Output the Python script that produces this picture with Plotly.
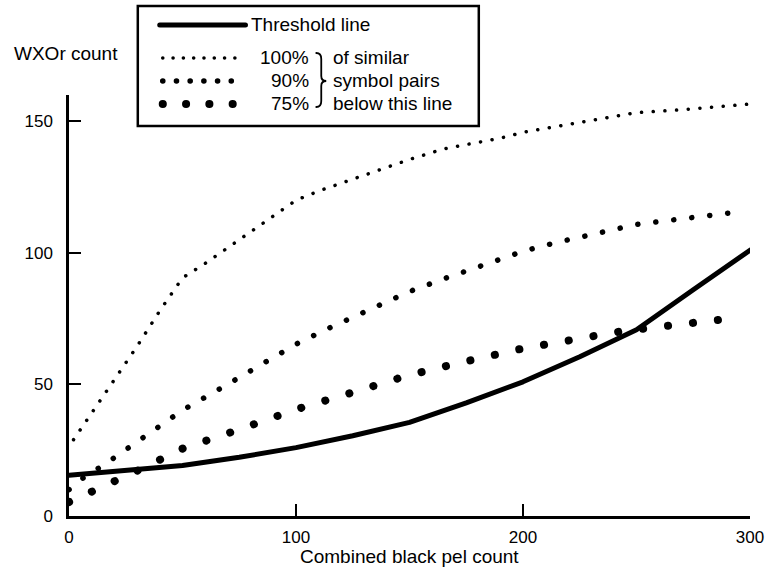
import plotly.graph_objects as go

# ---------------- data ----------------
thr_x = [0, 25, 50, 75, 100, 125, 150, 175, 200, 225, 250, 275, 300]
thr_y = [15.5, 17.3, 19.2, 22.3, 26.0, 30.5, 35.6, 43.0, 51.0, 60.5, 70.8, 86.0, 101.0]

p100_x = [2, 10, 20, 30, 40, 50, 60, 70, 80, 90, 100, 110, 120, 135, 150, 165, 180, 190,
          200, 215, 230, 250, 270, 285, 299]
p100_y = [29, 39, 51.5, 64.5, 78, 90.5, 96, 102, 108, 114, 120, 123.5, 126.5, 131, 135.5,
          139.5, 142, 143.6, 145.8, 148, 150.5, 153.3, 154.4, 155.6, 156.5]

p90_x = [0, 7, 15, 30, 50, 65, 80, 100, 115, 130, 150, 165, 180, 200, 215, 230, 250, 265,
         280, 296]
p90_y = [10, 15, 19.2, 28.3, 40.2, 47.6, 55.4, 65.3, 71.6, 77.4, 85.3, 90.1, 94.8, 100.6,
         104, 107, 110.8, 112.4, 114, 115.7]

p75_x = [0, 11, 21, 32, 50, 72, 100, 122, 150, 172, 200, 222, 244, 262, 283, 295]
p75_y = [5.3, 9.3, 13.6, 18, 25.6, 32, 40.5, 46.2, 53.6, 58.2, 63.7, 67, 70.3, 72.1, 74.1, 75.4]

x_ticks = [0, 100, 200, 300]
y_ticks = [0, 50, 100, 150]

# ---------------- geometry helpers (pixels -> paper) ----------------
W, H = 776, 576
L, R, T, B = 69, 752, 95, 516


def px(x):
    return (x - L) / (R - L)


def py(y):
    return (B - y) / (B - T)


FONT = "Liberation Sans, Arial, Helvetica, sans-serif"
TXT = 19
INK = "black"

fig = go.Figure()

fig.add_trace(go.Scatter(x=p100_x, y=p100_y, mode="lines",
                         line=dict(color=INK, width=3.5, dash="0.1px,11.6px"),
                         showlegend=False, hoverinfo="skip"))
fig.add_trace(go.Scatter(x=p90_x, y=p90_y, mode="lines",
                         line=dict(color=INK, width=5.5, dash="0.1px,18px"),
                         showlegend=False, hoverinfo="skip"))
fig.add_trace(go.Scatter(x=p75_x, y=p75_y, mode="lines",
                         line=dict(color=INK, width=8, dash="0.1px,25px"),
                         showlegend=False, hoverinfo="skip"))
fig.add_trace(go.Scatter(x=thr_x, y=thr_y, mode="lines",
                         line=dict(color=INK, width=5),
                         showlegend=False, hoverinfo="skip"))

shapes = [
    # legend frame
    dict(type="rect", xref="paper", yref="paper", x0=px(138), x1=px(480), y0=py(126), y1=py(6),
         line=dict(color=INK, width=2.5), fillcolor="white", layer="above"),
    # legend samples
    dict(type="line", xref="paper", yref="paper", x0=px(160), x1=px(246), y0=py(25), y1=py(25),
         line=dict(color=INK, width=5)),
    dict(type="line", xref="paper", yref="paper", x0=px(163), x1=px(245), y0=py(58), y1=py(58),
         line=dict(color=INK, width=3.5, dash="0.1px,10.2px")),
    dict(type="line", xref="paper", yref="paper", x0=px(163), x1=px(245), y0=py(81), y1=py(81),
         line=dict(color=INK, width=5.5, dash="0.1px,13.6px")),
    dict(type="line", xref="paper", yref="paper", x0=px(163), x1=px(256), y0=py(104), y1=py(104),
         line=dict(color=INK, width=8, dash="0.1px,23.2px")),
]

# curly brace grouping the three percentage rows
bx0, bx1, btip = 317, 322, 327
by0, bym, by1 = 53, 81, 107
brace = (f"M {px(bx0)},{py(by0)} Q {px(bx1)},{py(by0)} {px(bx1)},{py(by0 + 6)} "
         f"L {px(bx1)},{py(bym - 5)} Q {px(bx1)},{py(bym)} {px(btip)},{py(bym)} "
         f"Q {px(bx1)},{py(bym)} {px(bx1)},{py(bym + 5)} "
         f"L {px(bx1)},{py(by1 - 6)} Q {px(bx1)},{py(by1)} {px(bx0)},{py(by1)}")
shapes.append(dict(type="path", xref="paper", yref="paper", path=brace,
                   line=dict(color=INK, width=1.8)))


def note(text, x, y, xanchor="left", size=TXT):
    return dict(text=text, x=x, y=y, xref="paper", yref="paper", xanchor=xanchor,
                yanchor="middle", showarrow=False, font=dict(family=FONT, size=size, color=INK))


annotations = [
    note("WXOr count", px(12), py(54)),
    note("Threshold line", px(250), py(25)),
    note("100%", px(312), py(58), "right"),
    note("90%", px(312), py(81), "right"),
    note("75%", px(312), py(104), "right"),
    note("of similar", px(332), py(58)),
    note("symbol pairs", px(332), py(81)),
    note("below this line", px(332), py(104)),
    note("Combined black pel count", 0.5, py(556), "center"),
]

axis_common = dict(showline=True, linecolor=INK, linewidth=2.5, ticks="inside", ticklen=12,
                   tickwidth=2, tickcolor=INK, showgrid=False, zeroline=False,
                   tickfont=dict(family=FONT, size=17, color=INK), mirror=False)

fig.update_layout(
    width=W, height=H,
    margin=dict(l=L, r=W - R, t=T, b=H - B, pad=0),
    paper_bgcolor="white", plot_bgcolor="white",
    xaxis=dict(range=[0, 300], tickvals=x_ticks, ticktext=[str(v) for v in x_ticks],
               ticklabelstandoff=4, **axis_common),
    yaxis=dict(range=[0, 160], tickvals=y_ticks, ticktext=[str(v) for v in y_ticks],
               ticklabelstandoff=10, **axis_common),
    shapes=shapes,
    annotations=annotations,
    showlegend=False,
)

post = ("var s=document.createElement('style');"
        "s.textContent='.scatterlayer .js-line{stroke-linecap:round !important;stroke-linejoin:round !important;}"
        " .shapelayer path{stroke-linecap:round !important;}';"
        "document.head.appendChild(s);")

fig.write_html("out.html", post_script=post)
